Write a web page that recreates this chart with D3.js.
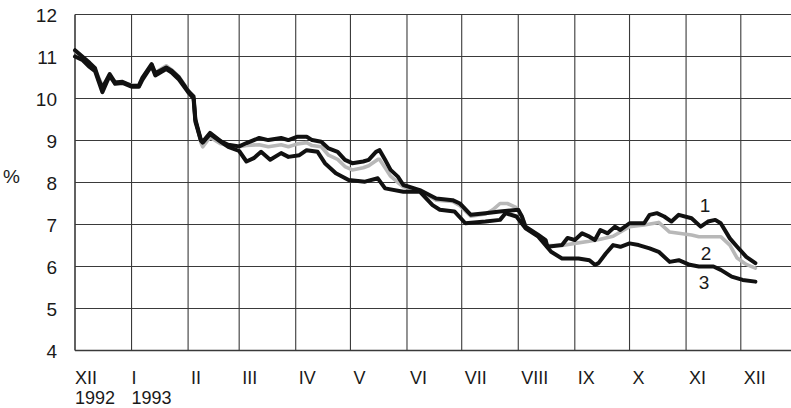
<!DOCTYPE html>
<html>
<head>
<meta charset="utf-8">
<script src="https://cdn.jsdelivr.net/npm/d3@7"></script>
<style>
  html, body { margin: 0; padding: 0; background: #fff; }
  svg { display: block; }
  text { font-family: "Liberation Sans", Arial, Helvetica, sans-serif; fill: #1a1a1a; }
</style>
</head>
<body>
<svg id="chart" width="791" height="408"></svg>
<script>
// ---- Data ----
const yTicks = [4, 5, 6, 7, 8, 9, 10, 11, 12];
const monthLabels = ["XII", "I", "II", "III", "IV", "V", "VI", "VII", "VIII", "IX", "X", "XI", "XII"];
const yearLabels = [["1992-12-01", "1992"], ["1993-01-01", "1993"]];
const seriesNames = ["1", "2", "3"];

const series1 = [
  ["1992-12-01", 11.15], ["1992-12-05", 11.0], ["1992-12-09", 10.85], ["1992-12-12", 10.72], ["1992-12-14", 10.45],
  ["1992-12-16", 10.25], ["1992-12-20", 10.58], ["1992-12-23", 10.38], ["1992-12-27", 10.4],
  ["1993-01-01", 10.3], ["1993-01-05", 10.3], ["1993-01-07", 10.5], ["1993-01-12", 10.82], ["1993-01-14", 10.6],
  ["1993-01-20", 10.74], ["1993-01-23", 10.66], ["1993-01-27", 10.5], ["1993-02-01", 10.18], ["1993-02-04", 10.05],
  ["1993-02-05", 9.5], ["1993-02-08", 9.02], ["1993-02-09", 8.97], ["1993-02-13", 9.18], ["1993-02-19", 8.98],
  ["1993-02-23", 8.9], ["1993-03-01", 8.86], ["1993-03-05", 8.94], ["1993-03-12", 9.06], ["1993-03-17", 9.01],
  ["1993-03-24", 9.06], ["1993-03-28", 9.01], ["1993-04-02", 9.09], ["1993-04-07", 9.09], ["1993-04-10", 9.01],
  ["1993-04-15", 8.97], ["1993-04-19", 8.81], ["1993-04-24", 8.73], ["1993-04-28", 8.54], ["1993-05-02", 8.46],
  ["1993-05-08", 8.5], ["1993-05-11", 8.54], ["1993-05-15", 8.73], ["1993-05-17", 8.77], ["1993-05-20", 8.54],
  ["1993-05-23", 8.3], ["1993-05-27", 8.14], ["1993-05-30", 7.94], ["1993-06-08", 7.82], ["1993-06-17", 7.62],
  ["1993-06-26", 7.58], ["1993-06-30", 7.5], ["1993-07-06", 7.23], ["1993-07-14", 7.27], ["1993-07-22", 7.31],
  ["1993-08-01", 7.35], ["1993-08-03", 7.19], ["1993-08-05", 6.95], ["1993-08-12", 6.75], ["1993-08-16", 6.63],
  ["1993-08-17", 6.47], ["1993-08-25", 6.51], ["1993-08-28", 6.68], ["1993-09-01", 6.63], ["1993-09-05", 6.79],
  ["1993-09-09", 6.71], ["1993-09-12", 6.63], ["1993-09-15", 6.87], ["1993-09-19", 6.79], ["1993-09-23", 6.95],
  ["1993-09-26", 6.87], ["1993-10-01", 7.03], ["1993-10-09", 7.03], ["1993-10-12", 7.23], ["1993-10-16", 7.27],
  ["1993-10-20", 7.19], ["1993-10-24", 7.07], ["1993-10-28", 7.23], ["1993-11-04", 7.15], ["1993-11-09", 6.95],
  ["1993-11-13", 7.07], ["1993-11-17", 7.11], ["1993-11-20", 7.03], ["1993-11-25", 6.67], ["1993-11-29", 6.47],
  ["1993-12-04", 6.23], ["1993-12-09", 6.08]
];

const series2 = [
  ["1992-12-01", 11.12], ["1992-12-05", 10.98], ["1992-12-09", 10.82], ["1992-12-12", 10.68], ["1992-12-14", 10.5],
  ["1992-12-16", 10.3], ["1992-12-20", 10.5], ["1992-12-23", 10.4], ["1992-12-27", 10.38],
  ["1993-01-01", 10.32], ["1993-01-05", 10.33], ["1993-01-07", 10.5], ["1993-01-12", 10.8], ["1993-01-14", 10.62],
  ["1993-01-20", 10.78], ["1993-01-23", 10.68], ["1993-01-27", 10.52], ["1993-02-01", 10.2], ["1993-02-04", 10.0],
  ["1993-02-05", 9.5], ["1993-02-08", 8.95], ["1993-02-09", 8.85], ["1993-02-13", 9.08], ["1993-02-19", 8.92],
  ["1993-02-23", 8.88], ["1993-03-01", 8.85], ["1993-03-05", 8.88], ["1993-03-12", 8.9], ["1993-03-17", 8.85],
  ["1993-03-24", 8.9], ["1993-03-28", 8.85], ["1993-04-02", 8.92], ["1993-04-07", 8.95], ["1993-04-10", 8.88],
  ["1993-04-15", 8.85], ["1993-04-19", 8.65], ["1993-04-24", 8.55], ["1993-04-28", 8.38], ["1993-05-02", 8.3],
  ["1993-05-08", 8.35], ["1993-05-11", 8.4], ["1993-05-16", 8.55], ["1993-05-17", 8.55], ["1993-05-20", 8.35],
  ["1993-05-23", 8.15], ["1993-05-27", 8.0], ["1993-05-30", 7.9], ["1993-06-08", 7.8], ["1993-06-17", 7.58],
  ["1993-06-26", 7.55], ["1993-06-30", 7.45], ["1993-07-06", 7.2], ["1993-07-14", 7.25], ["1993-07-18", 7.35],
  ["1993-07-22", 7.5], ["1993-07-26", 7.5], ["1993-07-31", 7.4], ["1993-08-03", 7.2], ["1993-08-05", 6.95],
  ["1993-08-12", 6.72], ["1993-08-17", 6.5], ["1993-08-25", 6.5], ["1993-09-01", 6.55], ["1993-09-09", 6.6],
  ["1993-09-15", 6.65], ["1993-09-22", 6.72], ["1993-10-01", 6.95], ["1993-10-09", 6.99], ["1993-10-17", 7.05],
  ["1993-10-23", 6.82], ["1993-10-28", 6.79], ["1993-11-04", 6.75], ["1993-11-08", 6.71], ["1993-11-20", 6.71],
  ["1993-11-25", 6.51], ["1993-11-29", 6.2], ["1993-12-04", 6.05], ["1993-12-09", 5.96]
];

const series3 = [
  ["1992-12-01", 11.0], ["1992-12-05", 10.92], ["1992-12-09", 10.75], ["1992-12-12", 10.65], ["1992-12-14", 10.4],
  ["1992-12-16", 10.15], ["1992-12-20", 10.55], ["1992-12-23", 10.35], ["1992-12-27", 10.37],
  ["1993-01-01", 10.28], ["1993-01-05", 10.28], ["1993-01-07", 10.45], ["1993-01-12", 10.78], ["1993-01-14", 10.55],
  ["1993-01-20", 10.7], ["1993-01-23", 10.62], ["1993-01-27", 10.45], ["1993-02-01", 10.15], ["1993-02-04", 10.0],
  ["1993-02-05", 9.45], ["1993-02-08", 9.0], ["1993-02-09", 8.95], ["1993-02-13", 9.15], ["1993-02-19", 8.97],
  ["1993-02-23", 8.85], ["1993-03-01", 8.75], ["1993-03-05", 8.5], ["1993-03-09", 8.58], ["1993-03-13", 8.73],
  ["1993-03-18", 8.54], ["1993-03-24", 8.7], ["1993-03-28", 8.61], ["1993-04-03", 8.65], ["1993-04-07", 8.77],
  ["1993-04-13", 8.73], ["1993-04-17", 8.46], ["1993-04-23", 8.22], ["1993-04-30", 8.06], ["1993-05-09", 8.02],
  ["1993-05-16", 8.1], ["1993-05-20", 7.86], ["1993-05-30", 7.78], ["1993-06-08", 7.78], ["1993-06-15", 7.46],
  ["1993-06-19", 7.35], ["1993-06-27", 7.31], ["1993-07-03", 7.03], ["1993-07-14", 7.07], ["1993-07-22", 7.11],
  ["1993-07-25", 7.27], ["1993-07-31", 7.19], ["1993-08-05", 6.91], ["1993-08-12", 6.71], ["1993-08-19", 6.35],
  ["1993-08-25", 6.19], ["1993-09-03", 6.19], ["1993-09-09", 6.15], ["1993-09-12", 6.04], ["1993-09-14", 6.08],
  ["1993-09-18", 6.31], ["1993-09-22", 6.51], ["1993-09-26", 6.47], ["1993-10-01", 6.55], ["1993-10-06", 6.51],
  ["1993-10-12", 6.43], ["1993-10-17", 6.35], ["1993-10-23", 6.11], ["1993-10-28", 6.15], ["1993-11-03", 6.04],
  ["1993-11-08", 6.0], ["1993-11-16", 6.0], ["1993-11-20", 5.92], ["1993-11-26", 5.76], ["1993-12-02", 5.68],
  ["1993-12-09", 5.64]
];

// ---- Chart ----
const parse = d3.timeParse("%Y-%m-%d");
const svg = d3.select("#chart");
const W = 791;
const plotLeft = 75, plotTop = 14.5, plotBottom = 350.5;

const x = d3.scaleTime()
  .domain([parse("1992-12-01"), parse("1993-12-01")])
  .range([plotLeft, 740.8]);
const y = d3.scaleLinear().domain([4, 12]).range([plotBottom, plotTop]);

const monthTicks = d3.timeMonth.range(parse("1992-12-01"), parse("1993-12-02"));

// horizontal gridlines
svg.append("g").selectAll("line").data(yTicks).join("line")
  .attr("x1", plotLeft).attr("x2", W)
  .attr("y1", d => y(d)).attr("y2", d => y(d))
  .attr("stroke", "#3a3a3a").attr("stroke-width", d => (d === 4 ? 1.6 : 1.1));

// vertical gridlines
svg.append("g").selectAll("line").data(monthTicks).join("line")
  .attr("x1", d => x(d)).attr("x2", d => x(d))
  .attr("y1", plotTop).attr("y2", plotBottom)
  .attr("stroke", "#3a3a3a").attr("stroke-width", (d, i) => (i === 0 ? 1.6 : 1.1));

// y tick labels
svg.append("g").selectAll("text").data(yTicks).join("text")
  .attr("x", 57).attr("y", d => y(d) + 7)
  .attr("text-anchor", "end").attr("font-size", 19)
  .text(d => d);

svg.append("text").attr("x", 3).attr("y", 183).attr("font-size", 19).text("%");

// month labels
svg.append("g").selectAll("text").data(monthTicks).join("text")
  .attr("x", (d, i) => x(d) + (i < 2 ? 0 : 3))
  .attr("y", 384).attr("font-size", 18)
  .text((d, i) => monthLabels[i]);

svg.append("g").selectAll("text").data(yearLabels).join("text")
  .attr("x", d => x(parse(d[0]))).attr("y", 403.8).attr("font-size", 18)
  .text(d => d[1]);

// lines
const line = d3.line()
  .x(d => x(parse(d[0])))
  .y(d => y(d[1]))
  .curve(d3.curveLinear);

svg.append("path").datum(series2).attr("d", line)
  .attr("fill", "none").attr("stroke", "#b8b8b8").attr("stroke-width", 3.6)
  .attr("stroke-linejoin", "round").attr("stroke-linecap", "round");
svg.append("path").datum(series3).attr("d", line)
  .attr("fill", "none").attr("stroke", "#111").attr("stroke-width", 4)
  .attr("stroke-linejoin", "round").attr("stroke-linecap", "round");
svg.append("path").datum(series1).attr("d", line)
  .attr("fill", "none").attr("stroke", "#111").attr("stroke-width", 4)
  .attr("stroke-linejoin", "round").attr("stroke-linecap", "round");

// series labels
const seriesLabelPos = [[705, 211.5], [706, 260], [704, 289]];
svg.append("g").selectAll("text").data(seriesNames).join("text")
  .attr("x", (d, i) => seriesLabelPos[i][0]).attr("y", (d, i) => seriesLabelPos[i][1])
  .attr("text-anchor", "middle").attr("font-size", 19)
  .text(d => d);
</script>
</body>
</html>
